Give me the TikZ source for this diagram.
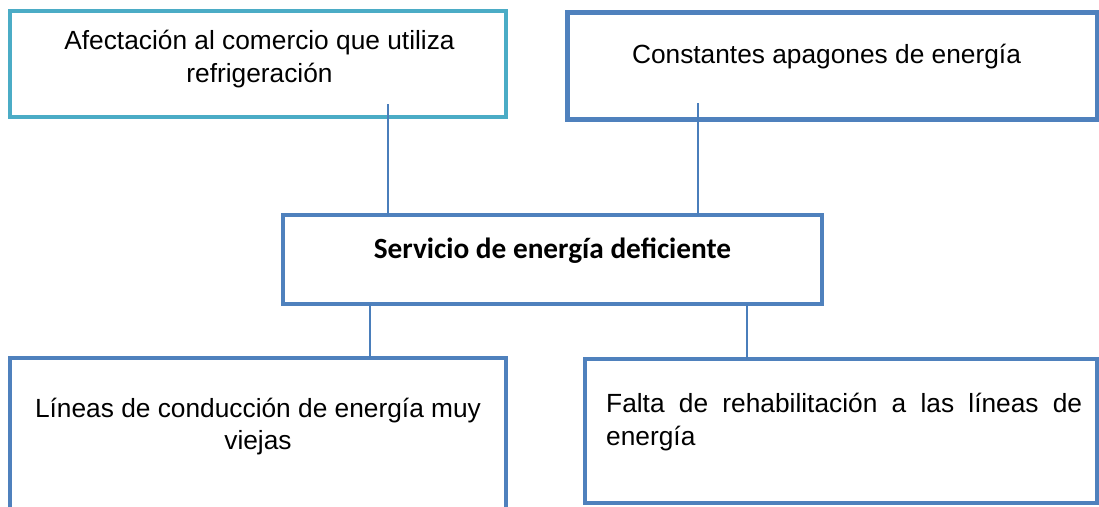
\documentclass[tikz,border=0pt]{standalone}
\usepackage{fontspec}
\setmainfont{Liberation Sans}
\newfontfamily\calibrifont{Carlito}
\definecolor{boxblue}{HTML}{4F81BD}
\definecolor{boxcyan}{HTML}{4BACC6}
\definecolor{connblue}{HTML}{4A7EBB}
\tikzset{
  box/.style={draw=boxblue, line width=4.5pt, rectangle, inner sep=0pt, outer sep=0pt},
  cyanbox/.style={box, draw=boxcyan},
  conn/.style={draw=connblue, line width=2pt},
  txt/.style={anchor=base, inner sep=0pt, font=\fontsize{26.3}{33}\selectfont},
  boldtxt/.style={anchor=base, inner sep=0pt, font=\calibrifont\bfseries\fontsize{29.3}{35}\selectfont}
}
\begin{document}
\begin{tikzpicture}[x=1pt,y=-1pt]
\useasboundingbox[fill=white] (0,0) rectangle (1099,506);
% boxes
\node[cyanbox, minimum width=496, minimum height=106] (b1) at (258,64) {};
\node[box, minimum width=529.5, minimum height=107] (b2) at (832.25,66) {};
\node[box, minimum width=539, minimum height=89] (cb) at (552.5,259.5) {};
\node[box, minimum width=496, minimum height=172] (b4) at (258,444) {};
\node[box, minimum width=512, minimum height=144] (b5) at (841,431) {};
% texts
\node[txt] (t1a) at (259.5,49) {Afectación al comercio que utiliza};
\node[txt] (t1b) at (259.5,82) {refrigeración};
\node[txt] (t2) at (826.5,63) {Constantes apagones de energía};
\node[boldtxt] (tc) at (552.5,258) {Servicio de energía deficiente};
\node[txt] (t4a) at (258,417) {Líneas de conducción de energía muy};
\node[txt] (t4b) at (258,449) {viejas};
\node[txt, anchor=base west] (t5a) at (606,412) {\makebox[476pt][s]{Falta de rehabilitación a las líneas de}};
\node[txt, anchor=base west] (t5b) at (606,445) {energía};
% connectors
\coordinate (s1) at (388,104);
\coordinate (s2) at (698,103);
\coordinate (x3) at (370,0);
\coordinate (x4) at (747,0);
\draw[conn] (s1) -- (s1 |- cb.north);
\draw[conn] (s2) -- (s2 |- cb.north);
\draw[conn] (cb.south -| x3) -- (b4.north -| x3);
\draw[conn] (cb.south -| x4) -- (b5.north -| x4);
\end{tikzpicture}
\end{document}
